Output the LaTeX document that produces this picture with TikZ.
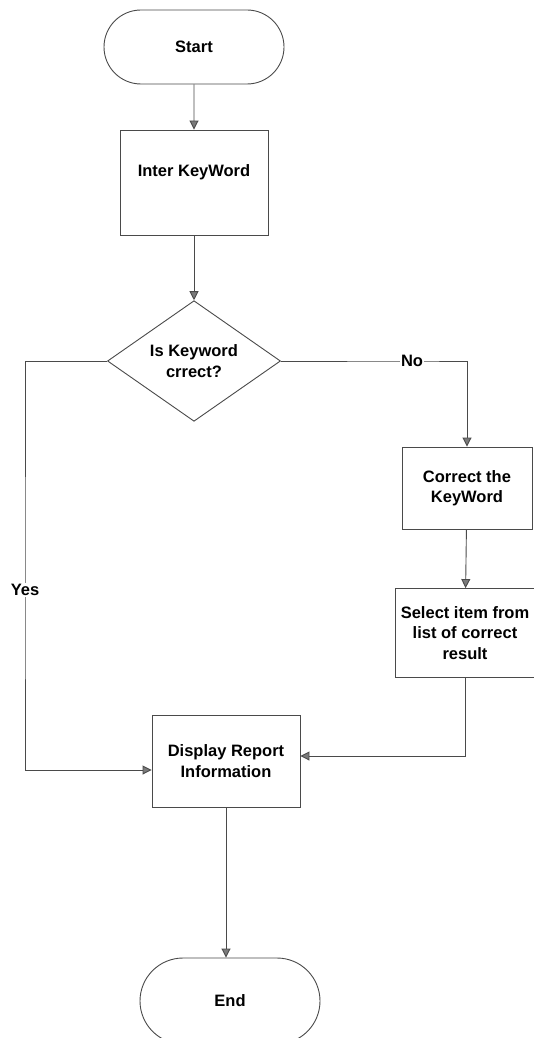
\documentclass[tikz,border=0pt]{standalone}
\usepackage{fontspec}
\setmainfont{Liberation Sans}
\usetikzlibrary{shapes.geometric,shapes.misc,arrows.meta}
\definecolor{linegray}{HTML}{4A4A4A}
\definecolor{tipgray}{HTML}{7A7A7A}
\begin{document}
\begin{tikzpicture}[x=1pt,y=1pt,
  every node/.style={font=\bfseries\fontsize{16.5}{20.5}\selectfont, align=center},
  terminal/.style={rounded rectangle, draw=linegray, line width=0.9pt, minimum width=180, minimum height=74, inner sep=0},
  procbox/.style={rectangle, draw=linegray, line width=0.9pt, inner sep=0},
  decision/.style={diamond, draw=linegray, line width=0.9pt, inner sep=0, minimum width=173, minimum height=108},
  flow/.style={draw=linegray, line width=0.9pt, -{Triangle[length=9pt,width=9pt,open=false,fill=tipgray]}},
  tag/.style={fill=white, inner sep=1pt}
]
\useasboundingbox (0,0) rectangle (534,-1038);
\fill[white] (0,0) rectangle (534,-1038);
\clip (0,0) rectangle (534,-1038);

% nodes
\node[terminal] (start) at (194,-47) {Start};
\node[procbox, minimum width=148, minimum height=105,
      label={[yshift=10pt]center:Inter KeyWord}] (inter) at (194,-182.5) {};
\node[decision] (check) at (194,-361) {Is Keyword\\crrect?};
\node[procbox, minimum width=130, minimum height=82] (fix) at (467,-488) {Correct the\\KeyWord};
\node[procbox, minimum width=140, minimum height=89] (pick) at (465,-633) {Select item from\\list of correct\\result};
\node[procbox, minimum width=148, minimum height=92] (show) at (226,-761) {Display Report\\Information};
\node[terminal, minimum height=86] (finish) at (230,-1001) {End};

% connectors
\draw[flow] (start) -- (inter);
\draw[flow] (inter) -- (check);
\draw[flow] (check.west) -| (25,-590) node[tag] (yes) {Yes}
  |- ([yshift=-9pt]show.west);
\draw[flow] (check.east) -- (412,-361) node[tag] (no) {No} -| (fix.north);
\draw[flow] (fix) -- (pick);
\draw[flow] (pick.south) |- ([yshift=5pt]show.east);
\draw[flow] (show.south) -- (show.south |- finish.north);
\end{tikzpicture}
\end{document}
